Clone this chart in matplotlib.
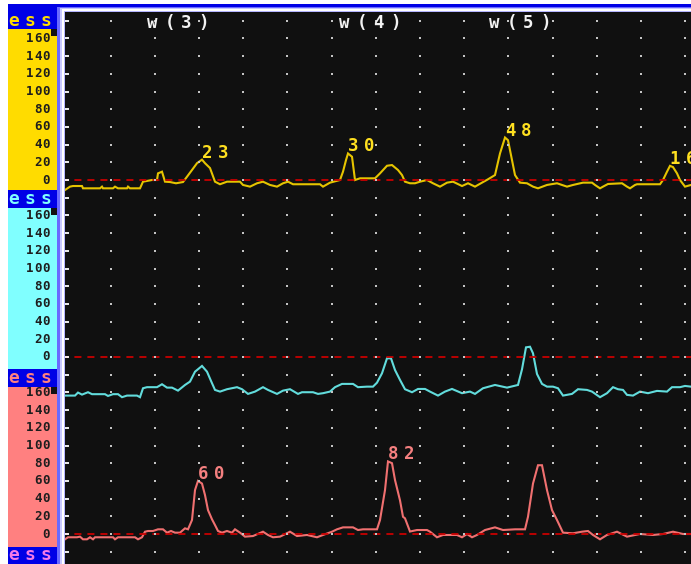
import numpy as np
import matplotlib
matplotlib.use("Agg")
import matplotlib.pyplot as plt
from matplotlib.patches import Rectangle

W, H = 691, 564

# three leads: (time sample, amplitude) pairs
lead1 = [(0, -11.3), (5, -7.5), (8, -6.8), (17, -6.8), (18, -9.4), (35, -9.4), (37, -7.5), (38, -9.4),
         (48, -9.4), (50, -7.5), (53, -9.4), (62, -9.4), (63, -7.5), (65, -9.4), (75, -9.4), (78, -1.9),
         (87, 0), (92, 0), (93, 7.5), (97, 9.4), (100, -1.9), (105, -2.3), (111, -3.7), (118, -2.3),
         (122, 3.7), (127, 11.3), (132, 19), (137, 23), (140, 19), (145, 13.5), (150, -1.9), (155, -4.8),
         (162, -1.9), (175, -1.9), (178, -5.6), (185, -7.5), (192, -3.7), (198, -1.9), (205, -5.6),
         (212, -7.5), (218, -3.7), (223, -1.9), (228, -4.8), (238, -4.8), (255, -4.8), (258, -7.5),
         (265, -3), (275, 0), (278, 9.4), (281, 22.5), (283, 30), (287, 26.3), (290, 0), (295, 1.9),
         (310, 1.9), (315, 7.5), (322, 16.1), (327, 16.9), (333, 11.3), (337, 5.6), (340, -1.9),
         (345, -3.7), (350, -3.7), (355, -1.9), (362, 0), (368, -3.7), (375, -7.5), (382, -3),
         (388, -1.9), (397, -6.8), (403, -3.7), (410, -7.5), (417, -3), (423, 0.8), (430, 5.6),
         (435, 30), (440, 48), (443, 45), (447, 22.5), (450, 5.6), (455, -3), (462, -3.7), (468, -7.5),
         (473, -9.4), (482, -5.6), (492, -3.7), (502, -7.5), (508, -5.6), (518, -3), (527, -3),
         (530, -5.6), (535, -9.4), (538, -7.5), (543, -4.5), (557, -3.7), (562, -7.5), (565, -9.4),
         (570, -5.6), (572, -4.8), (595, -4.8), (598, 0), (602, 9.4), (605, 16), (608, 14.6),
         (612, 7.5), (615, 0), (620, -7.5), (626, -5.6)]

lead2 = [(0, -43.6), (10, -43.6), (13, -40.2), (17, -42.5), (23, -39.8), (27, -42), (40, -42),
         (43, -44), (48, -42), (53, -42), (57, -45.4), (62, -43.6), (72, -43.6), (75, -45.4),
         (78, -35.3), (82, -34.1), (92, -34.1), (97, -30.8), (102, -34.6), (107, -34.6), (113, -38),
         (120, -31.6), (125, -27.8), (130, -16.6), (137, -10.1), (142, -16.6), (147, -29.6),
         (150, -37.2), (155, -39.1), (162, -36.4), (172, -34.1), (177, -36.4), (183, -41.7),
         (190, -39.1), (198, -34.1), (203, -37.2), (212, -41.7), (218, -38), (225, -36.4),
         (233, -41.7), (237, -39.8), (248, -39.8), (253, -41.7), (258, -40.9), (265, -39.1),
         (270, -34.1), (277, -30.4), (288, -30.4), (293, -34.1), (302, -33.5), (308, -33.5),
         (312, -29), (317, -18.4), (322, -1.5), (326, -1.5), (330, -14.7), (335, -25.9), (340, -36.4),
         (347, -39.8), (353, -36.1), (360, -36.1), (365, -39.1), (373, -43.6), (380, -39.1),
         (387, -36.1), (397, -40.9), (405, -39.1), (410, -41.7), (418, -35.3), (430, -31.6),
         (442, -34.6), (453, -31.6), (457, -13.9), (461, 10.9), (465, 11.6), (468, 4.2), (472, -19.2),
         (477, -30.4), (482, -33.5), (488, -33.5), (493, -35.3), (498, -43.6), (507, -41.7),
         (513, -36.4), (522, -37.2), (527, -39.1), (535, -45.4), (542, -40.9), (548, -34.1),
         (553, -36.4), (558, -37.2), (562, -42.8), (568, -43.6), (575, -39.1), (583, -40.9),
         (592, -38.3), (602, -39.1), (607, -34.1), (615, -34.1), (620, -32.7), (626, -33.5)]

lead3 = [(0, -6), (3, -3.7), (12, -3.7), (15, -3), (18, -6), (22, -6), (25, -3.7), (28, -6), (30, -3.7),
         (48, -3.7), (50, -6), (53, -3.7), (70, -3.7), (73, -6), (77, -3.7), (80, 2.6), (83, 3.4),
         (88, 3.4), (93, 5.3), (98, 5.3), (102, 1.5), (106, 3.4), (110, 1.5), (115, 1.5), (120, 6.4),
         (123, 5.3), (127, 15.8), (130, 49.6), (133, 60), (137, 57), (140, 44), (143, 27), (147, 16.6),
         (150, 10.1), (153, 3.4), (157, 1.5), (162, 3.4), (167, 1.5), (170, 5.3), (175, 1.5), (180, -3),
         (188, -2.3), (198, 2.6), (203, -1.1), (208, -3.7), (215, -3), (225, 2.6), (232, -2.3),
         (242, -1.1), (252, -3.7), (258, -1.1), (267, 2.6), (272, 5.3), (278, 7.5), (288, 7.5),
         (293, 4.5), (298, 5.3), (312, 5.3), (315, 15.8), (320, 49.6), (323, 82), (327, 80), (330, 61),
         (335, 38), (338, 19.5), (340, 17.7), (345, 2.8), (352, 4.5), (362, 4.5), (365, 2.6),
         (372, -3.7), (378, -1.1), (392, -1.1), (397, -3.7), (402, 0), (407, -3.7), (412, -1.1),
         (420, 4.5), (430, 7.5), (438, 4.5), (450, 5.3), (460, 5.3), (463, 19.5), (468, 57),
         (473, 77.7), (477, 77.7), (482, 49.6), (487, 27), (492, 15.8), (498, 1.5), (508, 0.8),
         (517, 2.6), (523, 3.4), (528, -1.1), (535, -6), (542, -1.1), (552, 2.6), (562, -3), (575, 0),
         (588, -1.1), (598, 0), (608, 2.6), (618, 0), (626, 0)]

lead1_peaks = [137, 283, 440, 605]
lead3_peaks = [133, 323]

scale_ticks = [160, 140, 120, 100, 80, 60, 40, 20, 0]
window_labels = ["w(3)", "w(4)", "w(5)"]
window_left_px = [145, 337, 487]

# layout
LEAD_GAP = 200                      # vertical spacing between leads (amplitude units)
PX_PER_UNIT = 17.7 / 20
AX_LEFT, AX_TOP = 65, 12
ZERO1_PX = 180
GRID_X0, GRID_DX = 1.3, 44.2

lead_colors = ["#e6c400", "#62dcdc", "#f07070"]
panel_colors = ["#ffdc00", "#80ffff", "#ff8080"]
header_colors = ["#ffdc00", "#80ffff", "#ff8080", "#f57ae8"]
MONO = "DejaVu Sans Mono"


def fig_rect(fig, x0, y0, x1, y1, color, z=-5):
    fig.add_artist(Rectangle((x0 / W, 1 - y1 / H), (x1 - x0) / W, (y1 - y0) / H,
                             transform=fig.transFigure, facecolor=color,
                             edgecolor="none", zorder=z))


def char_row(fig, left, y, text, pitch, **kw):
    # fixed pitch lettering, one glyph per cell
    for i, ch in enumerate(text):
        fig.text((left + pitch * (i + 0.5)) / W, 1 - y / H, ch, ha="center", va="center",
                 family=MONO, weight="bold", **kw)


fig = plt.figure(figsize=(W / 100, H / 100), dpi=100, facecolor="white")

# frame and side panel
fig_rect(fig, 8, 4, W, H, "#0000e6")
fig_rect(fig, 57, 7, W, H, "#6a6aff")
fig_rect(fig, 59.5, 8, W, H, "#c8c8ff")
fig_rect(fig, 62, 9, W, H, "#ffffff")
fig_rect(fig, 63.5, 10.5, W, H, "#b4b4ff")
panel_spans = [(29, 190), (208, 369), (387, 547)]
for (top, bot), c in zip(panel_spans, panel_colors):
    fig_rect(fig, 8, top, 57, bot, c)
    fig_rect(fig, 50.5, top, 57, top + 7, "#111111", z=-4)

ax = fig.add_axes([AX_LEFT / W, 0, (W - AX_LEFT) / W, (H - AX_TOP) / H])
ax.set_facecolor("#101010")
ax.set_xlim(0, W - AX_LEFT)
ax.set_ylim(-(H - ZERO1_PX) / PX_PER_UNIT, (ZERO1_PX - AX_TOP) / PX_PER_UNIT)
ax.set_xticks([])
ax.set_yticks([])
for s in ax.spines.values():
    s.set_visible(False)

# dotted grid
rows = np.arange(-420, 181, 20)
cols = GRID_X0 + GRID_DX * np.arange(1, 15)
gx, gy = np.meshgrid(cols, rows)
ax.scatter(gx.ravel(), gy.ravel(), marker="s", s=2.6, color="#c4c4c4", linewidths=0, zorder=4)
ax.plot(np.full(rows.size, GRID_X0 + 0.5), rows, ls="none", marker="_", ms=3,
        mew=1.3, color="white", zorder=4)

offsets = [0, -LEAD_GAP, -2 * LEAD_GAP]
traces = []
for data, off, c in zip([lead1, lead2, lead3], offsets, lead_colors):
    t, v = np.array(data).T
    traces.append(dict(zip(t, v)))
    ax.plot(t, v + off, color=c, lw=1.5, solid_joinstyle="miter", zorder=2)
    ax.axhline(off, color="#c80000", lw=1.3, linestyle=(2, (3.9, 3.3)), zorder=3)

# peak values
for peaks, amp, off, c in [(lead1_peaks, traces[0], offsets[0], "#ffe020"),
                           (lead3_peaks, traces[2], offsets[2], "#f58080")]:
    for tp in peaks:
        val = amp[tp]
        for i, ch in enumerate(f"{val:.0f}"):
            ax.annotate(ch, (tp, val + off), xytext=((-3 + 16 * i + 8) * 0.72, 2 * 0.72),
                        textcoords="offset points", ha="center", va="baseline",
                        family=MONO, weight="bold", fontsize=12.5, color=c, zorder=6)

# window markers along the top
for lab, left in zip(window_labels, window_left_px):
    char_row(fig, left - 1, 23, lab, 17, fontsize=12.5, color="#f2f2f2")

# amplitude scale on each lead panel
for off in offsets:
    for v in scale_ticks:
        y_px = H - ax.transData.transform((0, v + off))[1]
        txt = str(v)
        char_row(fig, 50.5 - 8.3 * len(txt), y_px, txt, 8.3, fontsize=9, color="#1e1e1e")

# lead headers
for y, c in zip([21.5, 199, 378, 555], header_colors):
    char_row(fig, 6, y, "ess", 16, fontsize=13, color=c)
fig_rect(fig, 0, 0, 8, H, "white", z=10)
fig_rect(fig, 0, 0, W, 4, "white", z=10)

fig.savefig("out.png", dpi=100, facecolor="white")
